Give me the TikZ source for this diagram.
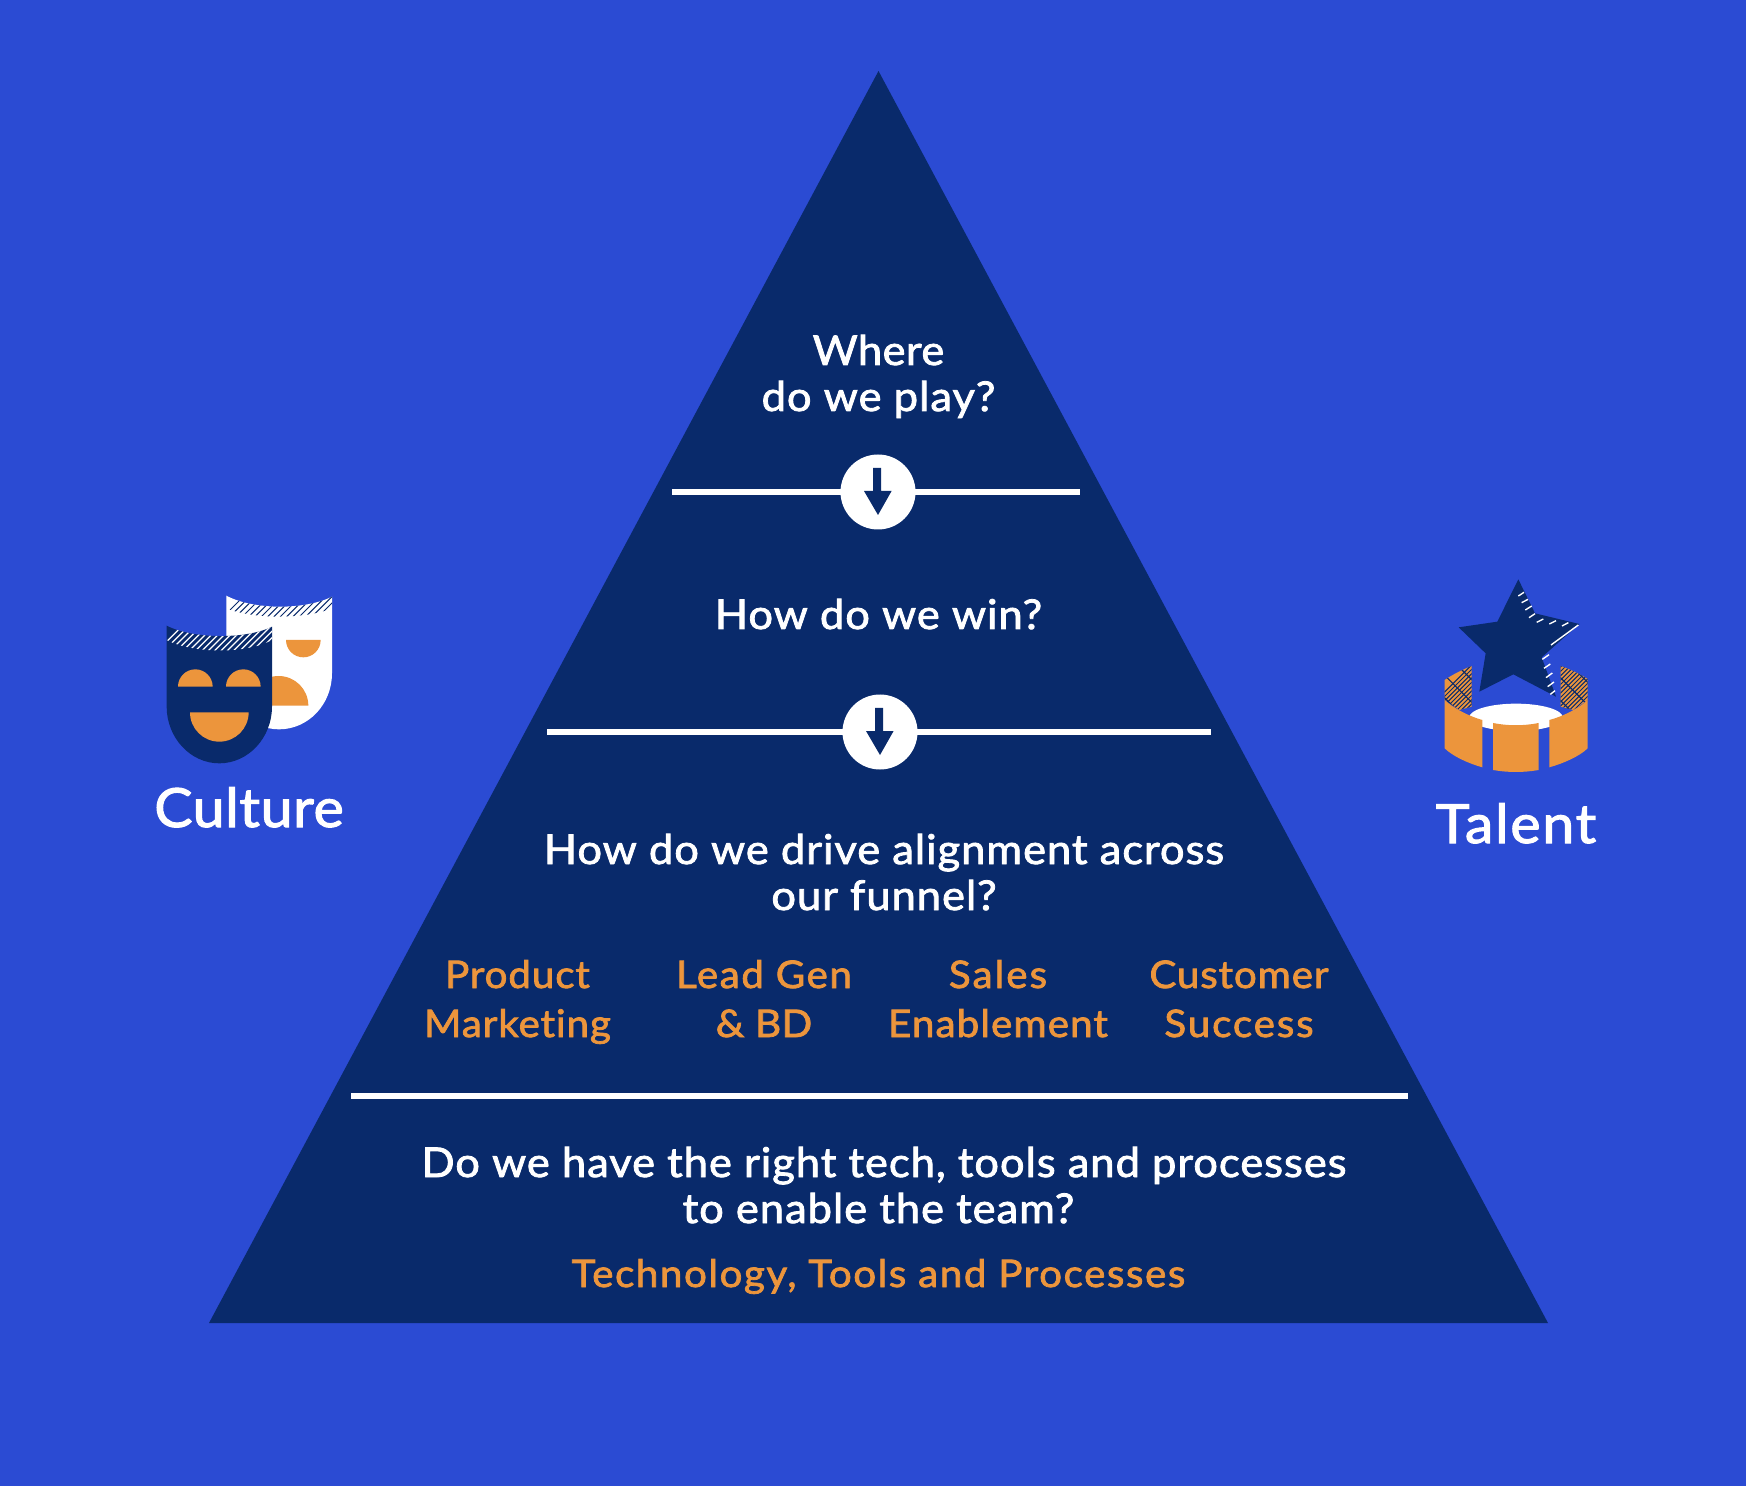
\documentclass[tikz,border=0pt]{standalone}
\usepackage{fontspec}
\setmainfont{Lato}[FakeBold=2,FakeStretch=1.06,LetterSpace=2.4,Ligatures=NoCommon]
\newcommand{\lsp}[1]{\addfontfeature{LetterSpace=#1}}
\definecolor{bgblue}{RGB}{43,75,211}
\definecolor{navy}{RGB}{9,42,107}
\definecolor{amber}{RGB}{236,149,60}
\tikzset{
  qtext/.style={text=white,anchor=base,align=center,font=\fontsize{20.5}{23}\selectfont,inner sep=0pt},
  otext/.style={text=amber,anchor=base,align=center,font=\fontsize{19}{24.5}\selectfont,inner sep=0pt},
  ltext/.style={text=white,anchor=base,font=\fontsize{27}{30}\selectfont,inner sep=0pt},
  divider/.style={draw=white,line width=3pt},
  knob/.style={circle,fill=white,minimum size=37.5pt,inner sep=0pt},
}
\newcommand{\downarrowmark}[1]{%
  \fill[navy] ([xshift=-2.4pt,yshift=12pt]#1) -- ([xshift=1.6pt,yshift=12pt]#1) -- ([xshift=1.6pt,yshift=0.5pt]#1) -- ([xshift=6.8pt,yshift=0.5pt]#1) -- ([yshift=-11.5pt]#1) -- ([xshift=-7pt,yshift=0.5pt]#1) -- ([xshift=-2.4pt,yshift=0.5pt]#1) -- cycle;}
\begin{document}
\begin{tikzpicture}[x=0.5pt,y=-0.5pt]
\useasboundingbox (0,0) rectangle (1746,1486);
\fill[bgblue] (0,0) rectangle (1746,1486);
\fill[navy] (878.5,71) -- (1548,1323) -- (209,1323) -- cycle;
% dividers
\coordinate (d1l) at (672,492); \coordinate (d1r) at (1080,492);
\coordinate (d2l) at (547,732); \coordinate (d2r) at (1211,732);
\coordinate (d3l) at (351,1096); \coordinate (d3r) at (1408,1096);
\draw[divider] (d1l) -- (d1r);
\draw[divider] (d2l) -- (d2r);
\draw[divider] (d3l) -- (d3r);
\node[knob] (k1) at (878,492) {};
\node[knob] (k2) at (880,732) {};
\downarrowmark{k1.center}
\downarrowmark{k2.center}
% texts
\node[qtext] (t1) at (878.5,365) {\lsp{1}Where};
\node[qtext] (t2) at (878.5,411) {\lsp{2.5}do we play?};
\node[qtext] (t3) at (878.5,629) {How do we win?};
\node[qtext] (t4) at (884,864) {How do we drive alignment across};
\node[qtext] (t5) at (884,910) {our funnel?};
\node[otext] (o1) at (517.5,988) {Product};
\node[otext] (o2) at (517.5,1037) {Marketing};
\node[otext] (o3) at (764,988) {\lsp{4.2}Lead Gen};
\node[otext] (o4) at (764,1037) {\lsp{1}\& BD};
\node[otext] (o5) at (998,988) {\lsp{5.5}Sales};
\node[otext] (o6) at (998,1037) {\lsp{3}Enablement};
\node[otext] (o7) at (1239,988) {Customer};
\node[otext] (o8) at (1239,1037) {\lsp{5}Success};
\node[qtext] (t6) at (884,1177) {Do we have the right tech, tools and processes};
\node[qtext] (t7) at (878.5,1223) {to enable the team?};
\node[otext] (o9) at (878.5,1287) {\lsp{4.2}Technology, Tools and Processes};
\node[ltext] (culture) at (249,827) {\lsp{1.2}Culture};
\node[ltext] (talent) at (1516,843) {\lsp{3.3}Talent};
% masks icon
\begin{scope}[shift={(140,580)},scale=1/3]
  \def\whitemask{(259,47) .. controls (340,90.5) and (495,90.5) .. (576,50) -- (576,280) .. controls (576,373) and (505,448) .. (417,448) .. controls (330,448) and (259,373) .. (259,280) -- cycle}
  \def\darkmask{(80,137) .. controls (160,178) and (320,178) .. (396,140) -- (396,380) .. controls (396,473) and (325,550) .. (238,550) .. controls (151,550) and (80,473) .. (80,380) -- cycle}
  \fill[white] \whitemask;
  \begin{scope}
    \clip (259,47) .. controls (340,90.5) and (495,90.5) .. (576,50) -- (576,85) .. controls (495,118) and (340,118) .. (259,85) -- cycle;
    \foreach \k in {0,...,24}{\draw[navy,line width=0.5pt] (240+\k*19,120) -- ++(90,-90);}
  \end{scope}
  \fill[amber] (438,180) arc[start angle=180,end angle=0,radius=52] -- cycle;
  \fill[amber] (327,377) arc[start angle=180,end angle=360,radius=89] -- cycle;
  \fill[navy] \darkmask;
  \begin{scope}
    \clip (80,137) .. controls (160,178) and (320,178) .. (396,140) -- (396,180) .. controls (320,222) and (160,222) .. (80,180) -- cycle;
    \foreach \k in {0,...,22}{\draw[white,line width=0.6pt] (40+\k*19,225) -- ++(100,-100);}
  \end{scope}
  \fill[amber] (114,320) arc[start angle=180,end angle=360,radius=52] -- cycle;
  \fill[amber] (258,320) arc[start angle=180,end angle=360,radius=52] -- cycle;
  \fill[amber] (150,397) arc[start angle=180,end angle=0,radius=88] -- cycle;
\end{scope}
% star icon
\begin{scope}[shift={(1420,570)},scale=1/3]
  \fill[white] (288,442) ellipse[x radius=140,y radius=41];
  \def\hatchleft{(74,330) .. controls (100,312) and (130,298) .. (155,288) -- (155,410) -- (118,420) -- (74,390) -- cycle}
  \def\hatchright{(422,288) .. controls (450,298) and (480,312) .. (503,327) -- (503,390) -- (460,420) -- (422,410) -- cycle}
  \foreach \pth in {\hatchleft,\hatchright}{
    \begin{scope}
      \fill[amber] \pth;
      \clip \pth;
      \foreach \k in {0,...,60}{\draw[navy,line width=0.5pt] (-40+\k*13,480) -- ++(220,-220);}
      \foreach \k in {0,...,12}{\draw[navy,line width=0.6pt] (-60+\k*68,250) -- ++(220,220);}
    \end{scope}
  }
  \fill[amber] (74,390) .. controls (100,415) and (150,440) .. (187,450) -- (187,592) .. controls (145,580) and (100,560) .. (74,535) -- cycle;
  \fill[amber] (219,459) .. controls (265,468) and (310,468) .. (356,459) -- (356,600) .. controls (310,608) and (265,608) .. (219,600) -- cycle;
  \fill[amber] (503,390) .. controls (477,415) and (427,440) .. (388,450) -- (388,592) .. controls (430,580) and (477,560) .. (503,535) -- cycle;
  \fill[navy] (295,28) -- (345,130) -- (478,162) -- (365,262) -- (408,380) -- (280,313) -- (178,365) -- (197,250) -- (116,172) -- (232,155) -- cycle;
  \foreach \a/\b/\c/\d in {295/78/312/67,305/98/324/88,316/120/335/108,327/143/345/131,350/157/370/147,388/162/408/152,426/168/445/158,393/225/475/165,367/268/387/254,372/295/391/282,378/323/397/309,383/350/402/336,391/373/405/362}{
    \draw[white,line width=0.7pt] (\a,\b) -- (\c,\d);
  }
\end{scope}
\end{tikzpicture}
\end{document}
